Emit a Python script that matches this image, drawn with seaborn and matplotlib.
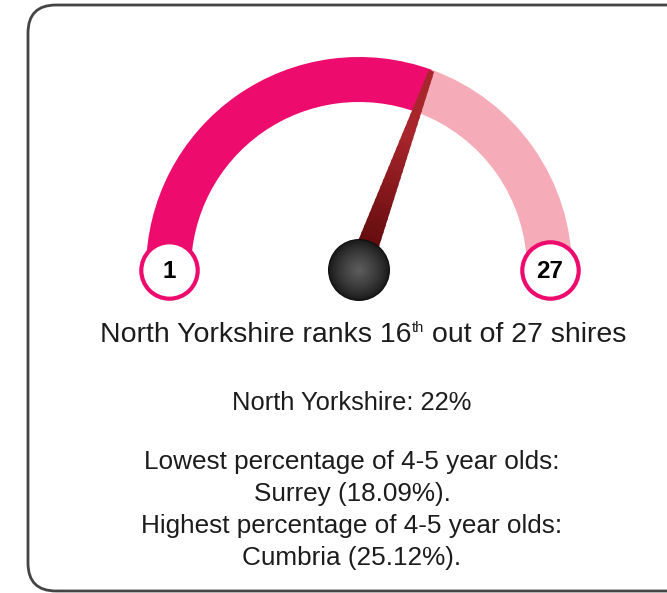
import numpy as np
import matplotlib
matplotlib.use("Agg")
import matplotlib.pyplot as plt
import seaborn as sns
from matplotlib.patches import Wedge, Circle, FancyBboxPatch, Polygon
from matplotlib.colors import to_rgb

# ---- data ----
area = "North Yorkshire"
rank = 16
total = 27
gauge_labels = ["1", "27"]
area_value = "22%"
lowest_name = "Surrey"
lowest_value = "18.09%"
highest_name = "Cumbria"
highest_value = "25.12%"
measure = "4-5 year olds"

sns.set_theme(style="white")
plt.rcParams["font.family"] = ["Liberation Sans", "DejaVu Sans"]

W, H = 667, 593
fig = plt.figure(figsize=(W / 100, H / 100), dpi=100)
ax = fig.add_axes([0, 0, 1, 1])
ax.set_xlim(0, W)
ax.set_ylim(0, H)
ax.set_aspect("equal")
ax.axis("off")

PINK = "#ED0C6E"
LIGHT = "#F5ACB8"
TEXT = "#1c1c1c"

def Y(yp):
    return H - yp

# border
ax.add_patch(FancyBboxPatch((28, Y(591)), 700, 586, boxstyle="round,pad=0,rounding_size=28",
                            fc="none", ec="#444444", lw=2.0, zorder=1))

cx, cy = 359, Y(270)
r_out, band = 213, 45
frac = (rank + 0.5) / total
ang = 180 - 180 * frac

ax.add_patch(Wedge((cx, cy), r_out, 0, ang, width=band, fc=LIGHT, ec="none", zorder=2))
ax.add_patch(Wedge((cx, cy), r_out, ang, 180, width=band, fc=PINK, ec="none", zorder=2))

# needle with gradient
th = np.deg2rad(ang)
d = np.array([np.cos(th), np.sin(th)])
nrm = np.array([-d[1], d[0]])
L = 212
w0, w1 = 24.0, 5.5
c_base, c_tip = np.array(to_rgb("#560709")), np.array(to_rgb("#A8252B"))
N = 30
for i in range(N):
    t0, t1 = i / N, (i + 1) / N
    wa = w0 + (w1 - w0) * t0
    wb = w0 + (w1 - w0) * t1
    p0 = np.array([cx, cy]) + d * L * t0
    p1 = np.array([cx, cy]) + d * L * min(1, t1 + 0.01)
    pts = [p0 + nrm * wa / 2, p1 + nrm * wb / 2, p1 - nrm * wb / 2, p0 - nrm * wa / 2]
    col = c_base + (c_tip - c_base) * min(1, t0 * 1.5)
    ax.add_patch(Polygon(pts, closed=True, fc=col, ec="none", zorder=3, antialiased=True))

# knob with radial gradient
R = 31
ax.add_patch(Circle((cx, cy), R, fc="#0e0e0e", ec="none", zorder=4))
for i in range(40):
    t = i / 40
    rr = (R - 1) * (1 - t)
    g = 0.10 + 0.27 * t ** 0.8
    ax.add_patch(Circle((cx, cy), rr, fc=(g, g, g), ec="none", zorder=4))

# end labels (seaborn scatter for circles)
ends_x = [169, 550]
ends_y = [cy, cy]
sns.scatterplot(x=ends_x, y=ends_y, ax=ax, s=1650, color="white", edgecolor=PINK,
                linewidth=3.0, zorder=5, legend=False)
for x, lab in zip(ends_x, gauge_labels):
    ax.text(x, cy - 1, lab, ha="center", va="center", fontsize=17.5, fontweight="bold",
            color="black", zorder=6)

# title with superscript built from pieces
renderer = fig.canvas.get_renderer()
parts = [(f"{area} ranks {rank}", 20.5, 0), ("th", 10.5, 10), (f" out of {total} shires", 20.5, 0)]
widths = []
for s, fs, dy in parts:
    t = ax.text(0, 0, s, fontsize=fs, ha="left", va="baseline", color=TEXT)
    widths.append(t.get_window_extent(renderer).width)
    t.remove()
x0 = 363 - sum(widths) / 2
base = Y(342)
for (s, fs, dy), w in zip(parts, widths):
    ax.text(x0, base + dy, s, fontsize=fs, ha="left", va="baseline", color=TEXT, zorder=6)
    x0 += w

ax.text(352, Y(403), f"{area}: {area_value}", ha="center", va="center", fontsize=18.4,
        color=TEXT, zorder=6)
lines = [f"Lowest percentage of {measure}:", f"{lowest_name} ({lowest_value}).",
         f"Highest percentage of {measure}:", f"{highest_name} ({highest_value})."]
for yp, s in zip([462, 494, 526, 558], lines):
    ax.text(352, Y(yp), s, ha="center", va="center", fontsize=18.8, color=TEXT, zorder=6)

fig.savefig("out.png", dpi=100, facecolor="white")
